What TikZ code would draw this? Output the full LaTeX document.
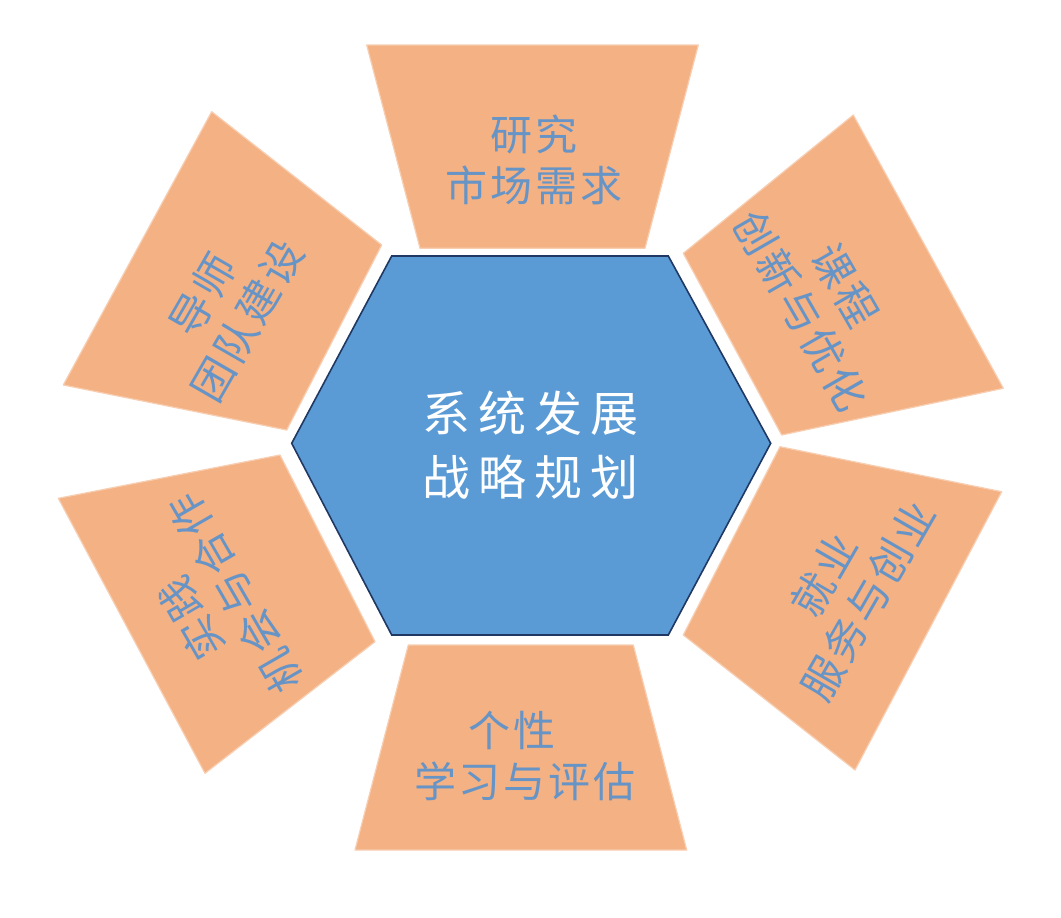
\documentclass[tikz,border=0pt]{standalone}
\usepackage{fontspec}
\newfontfamily\cjk{Noto Sans CJK SC}
\definecolor{petal}{RGB}{244,177,131}
\definecolor{petaledge}{RGB}{248,206,178}
\definecolor{core}{RGB}{91,155,213}
\definecolor{coreline}{RGB}{32,56,100}
\definecolor{petaltext}{RGB}{102,148,198}
\begin{document}
\begin{tikzpicture}[x=1pt,y=-1pt,
  petalshape/.style={fill=petal, draw=petaledge, line width=1.2pt, line join=round},
  coreshape/.style={fill=core, draw=coreline, line width=1.6pt, line join=miter},
  petallabel/.style={font=\cjk\fontsize{42}{51}\selectfont, text=petaltext, align=center, inner sep=0pt},
  corelabel/.style={font=\cjk\fontsize{48}{64}\selectfont, text=white, align=center, inner sep=0pt}]
\useasboundingbox (0,0) rectangle (1061,918);
\fill[white] (0,0) rectangle (1061,918);

% petals
\path[petalshape] (366.7,45) -- (698.3,45) -- (645,248.3) -- (420,248.3) -- cycle;
\path[petalshape] (683.3,253.3) -- (853.3,115) -- (1003.3,388.3) -- (781.7,435) -- cycle;
\path[petalshape] (780,446.7) -- (1001.7,491.7) -- (855,770) -- (683.3,635) -- cycle;
\path[petalshape] (408.3,645) -- (633.3,645) -- (686.7,850) -- (355,850) -- cycle;
\path[petalshape] (280,455) -- (58.3,498.3) -- (205,773.3) -- (375,641.7) -- cycle;
\path[petalshape] (211.7,111.7) -- (381.7,245) -- (286.7,430) -- (63.3,385) -- cycle;

% core hexagon
\path[coreshape] (391.7,256) -- (668.3,256) -- (770.7,443.3) -- (668.3,635) -- (391.7,635) -- (291.7,443.3) -- cycle;

% labels
\node[corelabel] (core) at (530.5,445) {系\kern8pt 统\kern8pt 发\kern8pt 展\\战\kern8pt 略\kern8pt 规\kern8pt 划};
\node[petallabel] (research) at (534,160) {研\kern3pt 究\\市\kern3pt 场\kern3pt 需\kern3pt 求};
\node[petallabel, rotate=-60] (course) at (823,298) {课\kern3pt 程\\创\kern3pt 新\kern3pt 与\kern3pt 优\kern3pt 化};
\node[petallabel, rotate=60] (career) at (846,588) {就\kern3pt 业\\服\kern3pt 务\kern3pt 与\kern3pt 创\kern3pt 业};
\node[petallabel] (personal) at (525,756) {个\kern3pt 性\kern26pt\\学\kern3pt 习\kern3pt 与\kern3pt 评\kern3pt 估};
\node[petallabel, rotate=120] (practice) at (213,606) {实\kern3pt 践\\机\kern3pt 会\kern3pt 与\kern3pt 合\kern3pt 作};
\node[petallabel, rotate=60] (mentor) at (225,308) {导\kern3pt 师\\团\kern3pt 队\kern3pt 建\kern3pt 设};
\end{tikzpicture}
\end{document}
